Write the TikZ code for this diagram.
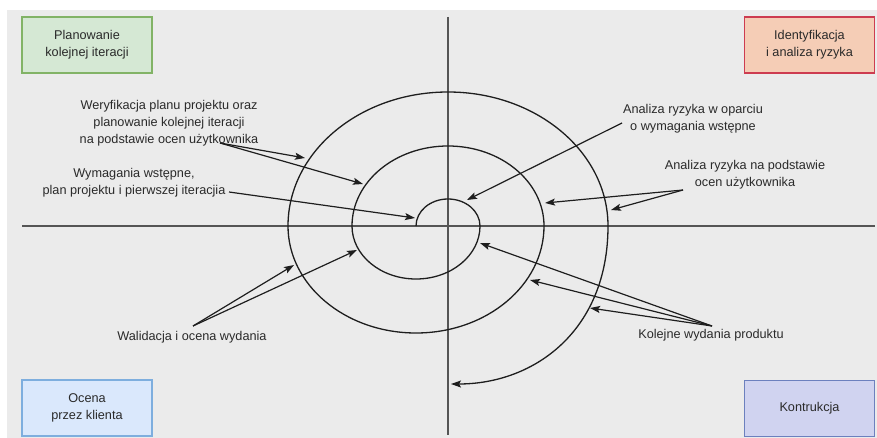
\documentclass[tikz,border=0pt]{standalone}
\usepackage{fontspec}
\setmainfont{Liberation Sans}
\usetikzlibrary{arrows.meta}
\definecolor{bg}{HTML}{EBEBEB}
\definecolor{txt}{HTML}{2A2A2A}
\definecolor{ln}{HTML}{1E1E1E}
\definecolor{axis}{HTML}{555555}
\definecolor{gfill}{HTML}{D5E8D4}\definecolor{gline}{HTML}{82B366}
\definecolor{rfill}{RGB}{245,205,182}\definecolor{rline}{RGB}{205,60,80}
\definecolor{bfill}{HTML}{DAE8FC}\definecolor{bline}{HTML}{7EAEDE}
\definecolor{pfill}{RGB}{208,211,240}\definecolor{pline}{RGB}{108,128,190}
\begin{document}
\begin{tikzpicture}[x=1pt,y=-1pt,
  lbl/.style={font=\fontsize{12.7}{17}\selectfont, text=txt, align=center, inner sep=0pt},
  phase/.style={lbl, draw, line width=1.3pt, minimum width=130pt, minimum height=56pt},
  conn/.style={draw=ln, line width=1.2pt, -{Stealth[length=10pt,width=7pt,inset=2pt]}},
  spiral/.style={draw=ln, line width=1.3pt},
  axisline/.style={draw=axis, line width=1.3pt}]
\useasboundingbox (0,0) rectangle (877,438);
\fill[bg] (7,10) rectangle (877,438);
% axes
\coordinate (vt) at (448,17); \coordinate (vb) at (448,435);
\coordinate (hl) at (22,226); \coordinate (hr) at (875,226);
\draw[axisline] (vt) -- (vb);
\draw[axisline] (hl) -- (hr);
% phase boxes
\node[phase, fill=gfill, draw=gline] (plan) at (87,45) {Planowanie\\kolejnej iteracji};
\node[phase, fill=rfill, draw=rline] (risk) at (809.5,45) {Identyfikacja\\i analiza ryzyka};
\node[phase, fill=bfill, draw=bline] (eval) at (87,408) {Ocena\\przez klienta};
\node[phase, fill=pfill, draw=pline] (build) at (809.5,408.5) {Kontrukcja};
% spiral
\coordinate (s0) at (416,226);
\draw[spiral] (s0)
  arc[start angle=180, end angle=360, x radius=32, y radius=27]
  arc[start angle=0, end angle=180, x radius=64, y radius=53]
  arc[start angle=180, end angle=360, x radius=96, y radius=80]
  arc[start angle=0, end angle=180, x radius=128, y radius=107]
  arc[start angle=180, end angle=360, x radius=160, y radius=134] coordinate (s5);
\coordinate (send) at (451,384);
\draw[conn, line width=1.3pt] (s5) .. controls (608,330) and (535,384) .. (send);
% labels
\node[lbl] (wer) at (169,123) {Weryfikacja planu projektu oraz\\planowanie kolejnej iteracji\\na podstawie ocen użytkownika};
\node[lbl] (wym) at (134,183) {Wymagania wstępne,\\plan projektu i pierwszej iteracjia};
\node[lbl] (an1) at (693,118.5) {Analiza ryzyka w oparciu\\o wymagania wstępne};
\node[lbl] (an2) at (745,174.5) {Analiza ryzyka na podstawie\\ocen użytkownika};
\node[lbl] (wal) at (192,337) {Walidacja i ocena wydania};
\node[lbl] (kol) at (711,335) {Kolejne wydania produktu};
% connector anchor points
\coordinate (werS) at (220,143);
\coordinate (werT1) at (305,158);
\coordinate (werT2) at (363,184);
\coordinate (wymS) at (229,192);
\coordinate (wymT) at (415,218);
\coordinate (an1S) at (622,123);
\coordinate (an1T) at (467,200);
\coordinate (an2S) at (683,190);
\coordinate (an2T1) at (545,203);
\coordinate (an2T2) at (611,210);
\coordinate (walS) at (193,326);
\coordinate (walT1) at (294,265);
\coordinate (walT2) at (357,250);
\coordinate (kolS) at (712,326);
\coordinate (kolT1) at (480,243);
\coordinate (kolT2) at (530,280);
\coordinate (kolT3) at (590,308);
% connectors
\draw[conn] (werS) -- (werT1);
\draw[conn] (werS) -- (werT2);
\draw[conn] (wymS) -- (wymT);
\draw[conn] (an1S) -- (an1T);
\draw[conn] (an2S) -- (an2T1);
\draw[conn] (an2S) -- (an2T2);
\draw[conn] (walS) -- (walT1);
\draw[conn] (walS) -- (walT2);
\draw[conn] (kolS) -- (kolT1);
\draw[conn] (kolS) -- (kolT2);
\draw[conn] (kolS) -- (kolT3);
\end{tikzpicture}
\end{document}
